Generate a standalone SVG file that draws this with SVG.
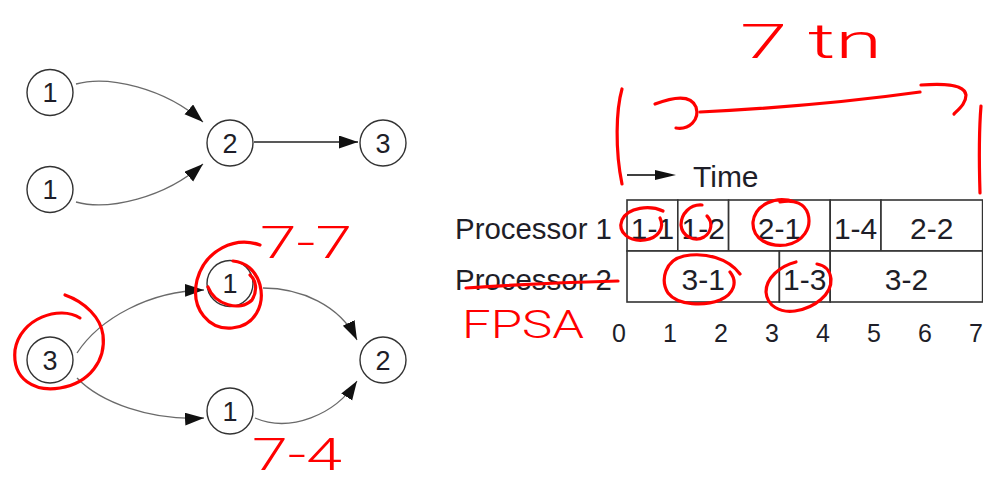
<svg xmlns="http://www.w3.org/2000/svg" width="983" height="488" viewBox="0 0 983 488">
  <style>
    .bg { fill: #ffffff; }
    .node circle { fill: #ffffff; stroke: #333333; stroke-width: 1.4; }
    .node text { font-family: "Liberation Sans", Arial, sans-serif; font-size: 27px; fill: #1e1e28; text-anchor: middle; }
    .edge { fill: none; stroke: #6a6a6a; stroke-width: 1.3; marker-end: url(#arrow); }
    .edge.dark { stroke: #222222; stroke-width: 1.5; }
    .cell rect { fill: #ffffff; stroke: #333333; stroke-width: 1.6; }
    .cell text, .label, .tick { font-family: "Liberation Sans", Arial, sans-serif; fill: #1e1e28; }
    .cell text { font-size: 30px; text-anchor: middle; }
    .label { font-size: 30px; }
    .tick { font-size: 25px; text-anchor: middle; }
    .ink { fill: none; stroke: #ff0000; stroke-width: 3.2; stroke-linecap: round; stroke-linejoin: round; }
    .ink-text { font-family: Roboto, "Open Sans", "Liberation Sans", sans-serif; font-weight: 300; fill: #ff0000; }
  </style>
  <defs>
    <marker id="arrow" markerUnits="userSpaceOnUse" markerWidth="20" markerHeight="14" refX="19" refY="6.5" orient="auto">
      <path d="M0,0 L19,6.5 L0,13 Z" fill="#111111"/>
    </marker>
  </defs>

  <rect class="bg" x="0" y="0" width="983" height="488"/>

  <!-- connectors of both task graphs -->
  <g id="connectors">
    <path class="edge" d="M76,84 C108,75 165,88 203,122"/>
    <path class="edge" d="M76,202 C108,211 165,198 203,164"/>
    <path class="edge dark" d="M254,142 L358,142"/>
    <path class="edge" d="M77,353 C100,318 150,291 204,290"/>
    <path class="edge" d="M263,288 C300,288 340,305 357,340"/>
    <path class="edge" d="M77,378 C100,402 150,421 204,418"/>
    <path class="edge" d="M255,418 C290,433 335,415 357,381"/>
  </g>

  <!-- upper task graph -->
  <g id="a-task1-top" class="node"><circle cx="50" cy="92.5" r="23"/><text x="50" y="102">1</text></g>
  <g id="a-task1-bottom" class="node"><circle cx="50" cy="189.5" r="23"/><text x="50" y="199">1</text></g>
  <g id="a-task2" class="node"><circle cx="230" cy="143" r="23"/><text x="230" y="152.5">2</text></g>
  <g id="a-task3" class="node"><circle cx="383" cy="143" r="23"/><text x="383" y="152.5">3</text></g>

  <!-- lower task graph -->
  <g id="b-task3" class="node"><circle cx="50" cy="360" r="23"/><text x="50" y="369.5">3</text></g>
  <g id="b-task1-top" class="node"><circle cx="230" cy="283.5" r="23"/><text x="230" y="293">1</text></g>
  <g id="b-task1-bottom" class="node"><circle cx="230" cy="411" r="23"/><text x="230" y="420.5">1</text></g>
  <g id="b-task2" class="node"><circle cx="383" cy="360" r="23"/><text x="383" y="369.5">2</text></g>

  <!-- schedule chart -->
  <g id="time-axis">
    <line x1="627" y1="175" x2="658" y2="175" stroke="#111111" stroke-width="1.6"/>
    <path d="M655,170 L676,175 L655,180 Z" fill="#111111"/>
    <text class="label" x="693" y="187">Time</text>
  </g>
  <text id="row-p1" class="label" x="455" y="239" textLength="157" lengthAdjust="spacingAndGlyphs">Processor 1</text>
  <text id="row-p2" class="label" x="455" y="290" textLength="157" lengthAdjust="spacingAndGlyphs">Processor 2</text>

  <g id="cell-1-1" class="cell"><rect x="627" y="200" width="50.8" height="51"/><text x="652.4" y="239">1-1</text></g>
  <g id="cell-1-2" class="cell"><rect x="677.8" y="200" width="50.8" height="51"/><text x="703.2" y="239">1-2</text></g>
  <g id="cell-2-1" class="cell"><rect x="728.6" y="200" width="101.6" height="51"/><text x="779.4" y="239">2-1</text></g>
  <g id="cell-1-4" class="cell"><rect x="830.2" y="200" width="50.8" height="51"/><text x="855.6" y="239">1-4</text></g>
  <g id="cell-2-2" class="cell"><rect x="881" y="200" width="101.6" height="51"/><text x="931.8" y="239">2-2</text></g>
  <g id="cell-3-1" class="cell"><rect x="627" y="251" width="152.4" height="51"/><text x="703.2" y="290">3-1</text></g>
  <g id="cell-1-3" class="cell"><rect x="779.4" y="251" width="50.8" height="51"/><text x="804.8" y="290">1-3</text></g>
  <g id="cell-3-2" class="cell"><rect x="830.2" y="251" width="152.4" height="51"/><text x="906.4" y="290">3-2</text></g>

  <g id="ticks">
    <text class="tick" x="619" y="342">0</text>
    <text class="tick" x="670" y="342">1</text>
    <text class="tick" x="721" y="342">2</text>
    <text class="tick" x="772" y="342">3</text>
    <text class="tick" x="823" y="342">4</text>
    <text class="tick" x="874" y="342">5</text>
    <text class="tick" x="925" y="342">6</text>
    <text class="tick" x="976" y="342">7</text>
  </g>

  <!-- red pen markings -->
  <g id="ink">
    <!-- span bracket above the chart -->
    <path class="ink" d="M622,89 C616,110 615,150 622,184"/>
    <path class="ink" d="M655,104 C668,99 690,92 696,107 C700,120 689,130 676,128"/>
    <path class="ink" d="M700,112 Q820,106 920,92"/>
    <path class="ink" d="M921,85 C945,83 965,85 966,95 C966,103 960,108 954,114"/>
    <path class="ink" d="M981,106 C979,130 979,160 980,193"/>
    <text class="ink-text" x="740" y="58" font-size="48" textLength="142" lengthAdjust="spacingAndGlyphs">7 tn</text>

    <!-- strike-through and note by processor 2 -->
    <path class="ink" d="M466,288 Q540,283 618,281"/>
    <text class="ink-text" x="462" y="338" font-size="38" textLength="122" lengthAdjust="spacingAndGlyphs">FPSA</text>

    <!-- rings around chart cells -->
    <path class="ink" d="M663,211 C650,205 628,207 622,220 C617,233 630,242 645,240 C658,238 665,228 660,218"/>
    <path class="ink" d="M702,205 C690,204 681,214 681,225 C682,237 695,242 704,237 C712,232 713,222 707,216"/>
    <path class="ink" d="M795,202 C775,195 755,205 753,222 C752,240 770,247 786,245 C803,242 812,228 808,214 C805,204 795,199 780,202"/>
    <path class="ink" d="M740,274 C728,258 705,252 684,256 C665,260 660,280 668,293 C678,306 705,306 720,300 C734,294 738,282 730,272"/>
    <path class="ink" d="M796,262 C780,266 766,278 766,292 C767,306 780,313 795,311 C815,308 832,294 831,279 C830,270 824,265 817,264"/>

    <!-- rings around graph nodes -->
    <path class="ink" d="M80,318 C60,305 20,318 15,350 C12,380 35,392 60,388 C90,383 106,360 103,335 C101,318 85,302 65,295"/>
    <path class="ink" d="M260,245 C235,236 205,250 197,280 C190,310 210,330 232,328 C255,326 265,305 260,285 C256,270 245,262 233,261"/>
    <path class="ink" d="M208,287 C215,305 240,312 252,300 C258,290 256,280 250,275"/>
    <text class="ink-text" x="260" y="258" font-size="44" textLength="92" lengthAdjust="spacingAndGlyphs">7-7</text>
    <text class="ink-text" x="252" y="470" font-size="44" textLength="90" lengthAdjust="spacingAndGlyphs">7-4</text>
  </g>
</svg>
